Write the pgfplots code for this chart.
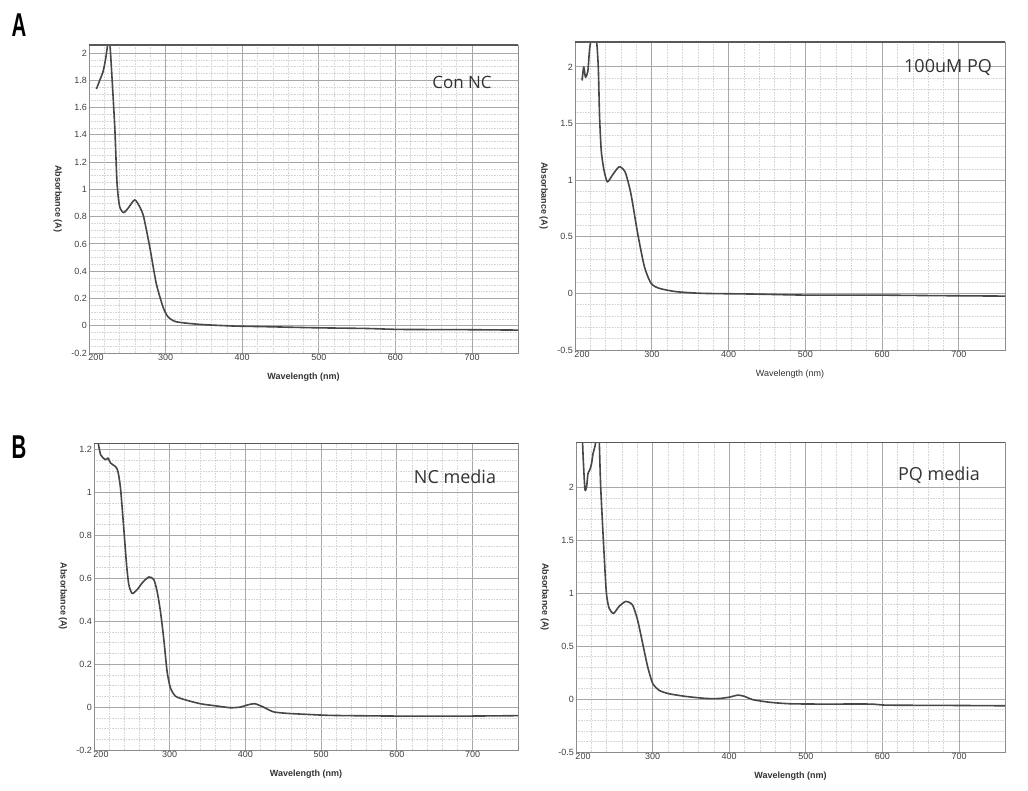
\documentclass[border=0pt]{standalone}
\usepackage{fontspec}
\setmainfont{Liberation Sans}
\newfontfamily\titlefont{Open Sans}
\newfontfamily\panelfont[FakeStretch=0.62]{Liberation Sans}
\usepackage{pgfplots}
\pgfplotsset{compat=1.18}
\definecolor{specgray}{HTML}{474747}
\definecolor{majgrid}{HTML}{A8A8A8}
\definecolor{mingrid}{HTML}{D6D6D6}
\pgfplotsset{spec/.style={
  scale only axis, xmin=200, xmax=760,
  xtick={200,300,400,500,600,700},
  xticklabels={\hspace*{14pt}200,300,400,500,600,700},
  minor x tick num=4,
  grid=both,
  major grid style={majgrid, line width=0.9pt},
  minor grid style={mingrid, line width=0.6pt, densely dotted},
  axis line style={black!45, line width=0.9pt},
  major tick length=0pt, minor tick length=0pt,
  tick label style={font=\fontsize{9}{10}\selectfont, text=black!75},
  xticklabel style={inner sep=1.5pt},
  yticklabel style={inner sep=2pt},
  /pgf/number format/assume math mode=true,
  xlabel={Wavelength (nm)}, ylabel={Absorbance (A)},
  xlabel style={font=\bfseries\fontsize{9}{10}\selectfont, text=black!80, at={(axis description cs:0.5,0)}, anchor=center, yshift=-24pt},
  ylabel style={font=\bfseries\fontsize{9}{10}\selectfont, text=black!80, at={(axis description cs:-0.073,0.5)}, anchor=center, rotate=180},
  every axis plot post/.append style={color=specgray, line width=1.6pt, smooth, tension=0.4, mark=none, line join=round},
}}
\begin{document}
\begin{tikzpicture}
\path (0pt,0pt) rectangle (1028pt,-791pt);
\node[font=\panelfont\bfseries\fontsize{33}{33}\selectfont] at (19pt,-25pt) {A};
\node[font=\panelfont\bfseries\fontsize{33}{33}\selectfont] at (19pt,-447pt) {B};

% A-left: Con NC
\begin{axis}[spec, at={(89pt,-353pt)}, anchor=south west, width=429pt, height=308pt,
  ymin=-0.2, ymax=2.059, ytick={-0.2,0,0.2,0.4,0.6,0.8,1,1.2,1.4,1.6,1.8,2}, minor y tick num=3]
\addplot coordinates {
(209.7,1.736) (214,1.80) (218.4,1.865) (221.8,1.96) (224.9,2.08) (227,2.08) (229.2,1.90) (233.6,1.46)
(236.6,1.045) (240,0.874) (245.3,0.83) (251,0.862) (259.6,0.923) (266,0.874) (271.3,0.80)
(279.2,0.58) (287.8,0.31) (296.5,0.14) (303,0.066) (313.9,0.029) (344.3,0.01) (387.7,-0.002)
(431,-0.007) (496,-0.015) (561.5,-0.02) (605,-0.027) (691.7,-0.029) (760,-0.032)};
\draw[line width=1.8pt, black!65] (rel axis cs:0,1) -- (rel axis cs:1,1);
\end{axis}

% A-right: 100uM PQ
\begin{axis}[spec, at={(575pt,-350pt)}, anchor=south west, width=430pt, height=308pt,
  ymin=-0.5, ymax=2.22, ytick={-0.5,0,0.5,1,1.5,2}, minor y tick num=4,
  xlabel style={font=\fontsize{9}{10}\selectfont}]
\addplot coordinates {
(209.2,1.88) (211.4,2.0) (213.6,1.91) (216.7,1.96) (218.9,2.15) (221.5,2.25) (227.6,2.25)
(230.3,2.0) (232,1.56) (234.2,1.26) (237.7,1.09) (242.1,0.985) (248.7,1.044) (257.5,1.118)
(265.4,1.07) (272.8,0.88) (281.6,0.53) (290.4,0.235) (299.1,0.088) (310,0.044) (332,0.015)
(367,0) (433,-0.006) (498.7,-0.015) (586,-0.015) (674,-0.02) (760,-0.024)};
\draw[line width=1.8pt, black!65] (rel axis cs:0,1) -- (rel axis cs:1,1);
\end{axis}

% B-left: NC media
\begin{axis}[spec, at={(94pt,-750pt)}, anchor=south west, width=424pt, height=307pt,
  ymin=-0.2, ymax=1.23, ytick={-0.2,0,0.2,0.4,0.6,0.8,1,1.2}, minor y tick num=3]
\addplot coordinates {
(204,1.26) (208.8,1.175) (215.4,1.152) (218.4,1.16) (222,1.136) (228.5,1.12) (231.6,1.098)
(235,1.02) (238.6,0.865) (243,0.664) (246,0.57) (250.4,0.529) (257,0.547) (263.6,0.578)
(272.4,0.606) (279,0.594) (283.3,0.54) (287.7,0.447) (292,0.322) (296.5,0.167) (300.9,0.09)
(307.5,0.051) (318.4,0.036) (340.4,0.0155) (362.3,0.005) (380,-0.003) (393,0) (404,0.011)
(412.7,0.0155) (423.7,0) (436.8,-0.022) (454,-0.029) (480.7,-0.034) (515.8,-0.039)
(603.5,-0.042) (691,-0.042) (760,-0.04)};
\draw[line width=1.8pt, black!65] (rel axis cs:0,1) -- (rel axis cs:1,1);
\end{axis}

% B-right: PQ media
\begin{axis}[spec, at={(576pt,-752pt)}, anchor=south west, width=429pt, height=310pt,
  ymin=-0.5, ymax=2.43, ytick={-0.5,0,0.5,1,1.5,2}, minor y tick num=4]
\addplot coordinates {
(208.2,2.5) (209.5,2.26) (211.7,1.98) (213.9,2.01) (215.6,2.13) (218.2,2.17) (220.4,2.23)
(222.2,2.32) (224.8,2.39) (227.4,2.5) (230,2.5) (232.2,2.01) (236.6,1.38) (239.7,1.0)
(243.2,0.86) (248.9,0.81) (256.3,0.876) (265,0.923) (273.8,0.89) (280.3,0.75) (286.9,0.53)
(293.4,0.31) (300,0.15) (308.7,0.082) (321.9,0.05) (343.7,0.025) (370,0.006) (387.4,0.006)
(400.5,0.019) (411.5,0.038) (420.2,0.025) (431.1,-0.006) (453,-0.03) (479.2,-0.044)
(518.6,-0.047) (584.2,-0.047) (606,-0.057) (693.4,-0.06) (760,-0.063)};
\draw[line width=1.8pt, black!65] (rel axis cs:0,1) -- (rel axis cs:1,1);
\end{axis}

\node[font=\titlefont\fontsize{17}{17}\selectfont, text=black!80] at (462pt,-82pt) {Con NC};
\node[font=\titlefont\fontsize{18}{18}\selectfont, text=black!80] at (948pt,-68pt) {100uM PQ};
\node[font=\titlefont\fontsize{18}{18}\selectfont, text=black!80] at (455pt,-477pt) {NC media};
\node[font=\titlefont\fontsize{18}{18}\selectfont, text=black!80] at (939pt,-475pt) {PQ media};
\end{tikzpicture}
\end{document}
